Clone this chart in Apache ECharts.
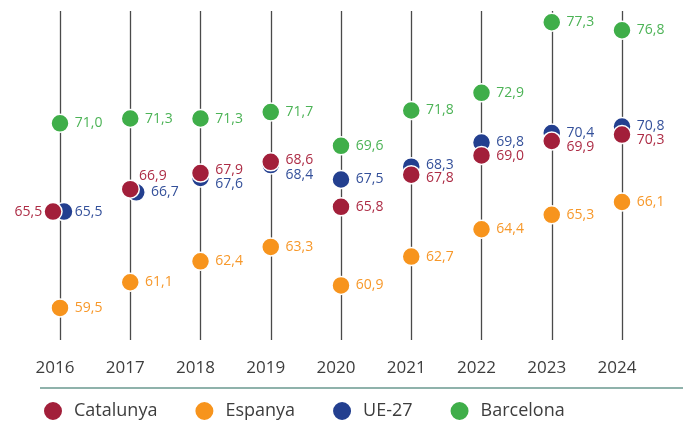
<!DOCTYPE html>
<html>
<head>
<meta charset="utf-8">
<script src="https://cdn.jsdelivr.net/npm/echarts@6/dist/echarts.min.js"></script>
<style>
html,body{margin:0;padding:0;background:#fff;}
#chart{width:686px;height:423px;}
</style>
</head>
<body>
<div id="chart"></div>
<script>
const years = ['2016','2017','2018','2019','2020','2021','2022','2023','2024'];
const catalunya = [65.5, 66.9, 67.9, 68.6, 65.8, 67.8, 69.0, 69.9, 70.3];
const espanya   = [59.5, 61.1, 62.4, 63.3, 60.9, 62.7, 64.4, 65.3, 66.1];
const ue27      = [65.5, 66.7, 67.6, 68.4, 67.5, 68.3, 69.8, 70.4, 70.8];
const barcelona = [71.0, 71.3, 71.3, 71.7, 69.6, 71.8, 72.9, 77.3, 76.8];
const seriesNames = ['Catalunya', 'Espanya', 'UE-27', 'Barcelona'];

const colors = {
  'Catalunya': '#a21f3a',
  'Espanya': '#f7941d',
  'UE-27': '#233f8f',
  'Barcelona': '#3fae49'
};
const labelColors = {
  'Catalunya': '#ad2c45',
  'Espanya': '#f7982a',
  'UE-27': '#34509a',
  'Barcelona': '#4cb356'
};

// visual tweaks (label / symbol nudges to avoid overlaps)
const tweaks = {
  'Catalunya': {
    0: {symbolOffset: [-7, 0], position: 'left', dx: 4, dy: 0},
    1: {dx: -6, dy: -13},
    2: {dy: -3},
    3: {dy: -2},
    5: {dy: 3},
    6: {dy: 1},
    7: {dy: 6},
    8: {dy: 5}
  },
  'UE-27': {
    0: {symbolOffset: [4, 0], dx: -4},
    1: {symbolOffset: [6, 0]},
    2: {dy: 6},
    3: {dy: 10},
    5: {dy: -2},
    6: {dy: -1},
    8: {dy: -1}
  }
};

const fmt = v => v.toFixed(1).replace('.', ',');

function build(name, values, z) {
  const tw = tweaks[name] || {};
  const data = values.map((v, i) => {
    const t = tw[i];
    const item = {value: v};
    if (t) {
      if (t.symbolOffset) item.symbolOffset = t.symbolOffset;
      item.label = {
        position: t.position || 'right',
        offset: [t.dx || 0, t.dy || 0]
      };
    }
    return item;
  });
  return {
    name: name,
    type: 'scatter',
    z: z,
    data: data,
    symbol: 'circle',
    symbolSize: 18,
    itemStyle: {color: colors[name], borderColor: '#fff', borderWidth: 1.5, opacity: 1},
    label: {
      show: true,
      position: 'right',
      distance: 5,
      fontFamily: 'Open Sans',
      fontSize: 14,
      color: labelColors[name],
      formatter: p => fmt(p.value)
    },
    emphasis: {disabled: true}
  };
}

const chart = echarts.init(document.getElementById('chart'), null, {renderer: 'canvas'});
chart.setOption({
  animation: false,
  backgroundColor: '#fff',
  textStyle: {fontFamily: 'Open Sans'},
  grid: {left: 60, right: 64, top: 11, bottom: 83},
  xAxis: {
    type: 'category',
    data: years,
    boundaryGap: false,
    axisLine: {show: false},
    axisTick: {show: false},
    axisLabel: {
      fontFamily: 'Open Sans',
      fontSize: 17,
      color: '#3d3d3d',
      margin: 20,
      padding: [0, 10, 0, 0]
    },
    splitLine: {show: true, lineStyle: {color: '#4a4a4a', width: 1.3}}
  },
  yAxis: {
    type: 'value',
    min: 57.5,
    max: 78,
    show: false,
    splitLine: {show: false}
  },
  legend: {
    data: seriesNames,
    left: 42,
    top: 400,
    padding: 0,
    icon: 'circle',
    itemWidth: 20,
    itemHeight: 20,
    itemGap: 36,
    textStyle: {fontFamily: 'Open Sans', fontSize: 18, color: '#3d3d3d', padding: [0, 0, 0, 6]},
    selectedMode: false
  },
  graphic: [{
    type: 'line',
    shape: {x1: 40, y1: 388, x2: 683, y2: 388},
    style: {stroke: '#6a988f', lineWidth: 1.5}
  }],
  series: [
    build('Catalunya', catalunya, 5),
    build('Espanya', espanya, 3),
    build('UE-27', ue27, 4),
    build('Barcelona', barcelona, 3)
  ]
});
</script>
</body>
</html>
